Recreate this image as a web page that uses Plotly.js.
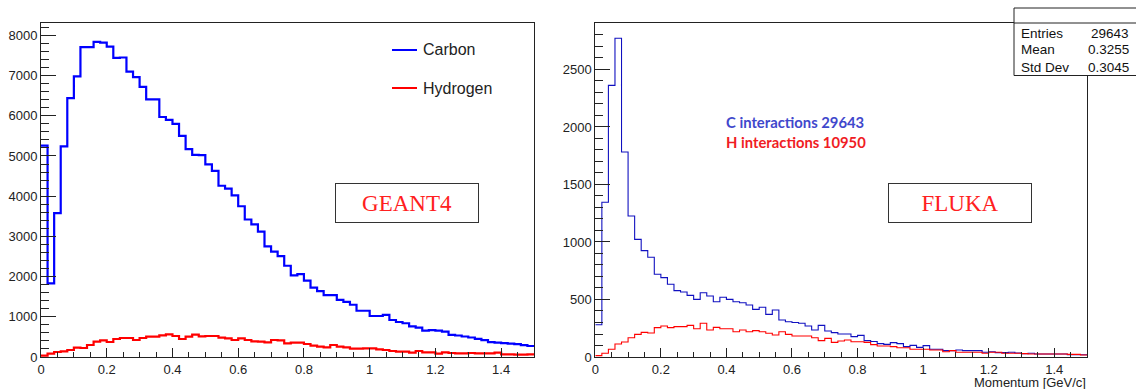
<!DOCTYPE html>
<html>
<head>
<meta charset="utf-8">
<script src="https://cdn.plot.ly/plotly-3.0.1.min.js"></script>
<style>html,body{margin:0;padding:0;background:#fff;}#chart{width:1136px;height:389px;}</style>
</head>
<body>
<div id="chart"></div>
<script>
// ---- data ----
const binLow = 0;
const binWidth = 0.02;

const g4Carbon = [5257,1830,3580,5240,6440,6980,7710,7710,7840,7820,
  7720,7440,7450,7100,6960,6720,6410,6410,5970,5900,
  5800,5500,5170,5030,5020,4790,4630,4260,4190,4020,
  3750,3420,3300,3120,2750,2620,2510,2270,2030,2060,
  1900,1725,1640,1540,1540,1420,1370,1300,1150,1150,
  1020,1020,1050,920,870,840,760,730,655,668,
  655,630,548,535,510,485,450,422,368,356,
  345,335,322,295,274];

const g4Hydrogen = [33,83,124,141,174,232,224,298,381,415,
  373,448,473,473,423,473,506,506,539,564,
  522,448,506,556,514,522,522,481,464,423,
  464,423,390,381,365,423,415,340,357,356,
  323,282,257,240,298,257,240,207,207,216,
  216,191,174,149,133,133,108,149,116,116,
  83,116,100,91,91,100,91,91,91,108,
  66,66,58,58,66];

const flukaCarbon = [280,1345,2362,2771,1783,1226,1023,925,867,719,
  690,632,577,565,536,501,559,530,481,519,
  501,481,472,452,414,432,371,409,322,307,
  300,293,270,235,275,226,212,200,200,177,
  188,142,135,116,110,125,116,90,101,84,
  99,67,67,55,55,61,55,55,55,41,
  46,38,38,41,35,29,32,26,26,26,
  26,26,20,20,20];

const flukaHydrogen = [12,32,67,113,130,168,197,214,209,255,
  270,255,264,264,275,246,293,235,258,246,
  246,220,235,220,229,220,206,191,220,197,
  183,183,183,168,142,162,127,139,148,133,
  133,127,108,96,96,90,81,81,67,67,
  67,61,61,46,55,41,41,41,41,32,
  41,41,32,32,32,29,26,26,26,26,
  26,26,23,23,17];

const legendNames = ["Carbon", "Hydrogen"];
const panelLabels = ["GEANT4", "FLUKA"];
const flukaTexts = ["C interactions 29643", "H interactions 10950"];
const statLabels = ["Entries", "Mean", "Std Dev"];
const statValues = ["29643", "0.3255", "0.3045"];
const xTitle = "Momentum [GeV/c]";

// ---- build step outlines ----
function stepXY(counts) {
  const x = [], y = [];
  for (let i = 0; i < counts.length; i++) { x.push(binLow + i * binWidth); y.push(counts[i]); }
  x.push(binLow + counts.length * binWidth); y.push(counts[counts.length - 1]);
  return {x, y};
}

const W = 1136, H = 389;
const px = v => v / W;
const py = v => 1 - v / H;

const BLUE = "#0000ff", RED = "#ff0000";
const FRAME = "#222222";

function trace(counts, color, width, xa, ya) {
  const s = stepXY(counts);
  return {type: "scatter", mode: "lines", x: s.x, y: s.y, xaxis: xa, yaxis: ya,
          line: {shape: "hv", color: color, width: width}, hoverinfo: "skip"};
}

const data = [
  trace(g4Hydrogen, RED, 2.2, "x", "y"),
  trace(g4Carbon, BLUE, 2.2, "x", "y"),
  trace(flukaCarbon, "#1010c0", 1.1, "x2", "y2"),
  trace(flukaHydrogen, RED, 1.1, "x2", "y2")
];

const tickFont = {family: "Liberation Sans, Arial, sans-serif", size: 13, color: "#222"};
function xAxis(domain, anchor) {
  return {domain: domain, anchor: anchor, range: [0, 1.5], tick0: 0, dtick: 0.2,
    ticks: "inside", ticklen: 9, tickwidth: 1, tickcolor: FRAME,
    minor: {ticks: "inside", ticklen: 5, dtick: 0.05, tickcolor: FRAME, tickwidth: 1, showgrid: false},
    showline: true, linecolor: FRAME, linewidth: 1, mirror: true,
    showgrid: false, zeroline: false, tickfont: tickFont, fixedrange: true};
}
function yAxis(domain, anchor, max, dt, mdt) {
  return {domain: domain, anchor: anchor, range: [0, max], tick0: 0, dtick: dt, tickformat: "d",
    ticks: "inside", ticklen: 15, tickwidth: 1, tickcolor: FRAME,
    minor: {ticks: "inside", ticklen: 8, dtick: mdt, tickcolor: FRAME, tickwidth: 1, showgrid: false},
    showline: true, linecolor: FRAME, linewidth: 1, mirror: true,
    showgrid: false, zeroline: false, tickfont: tickFont, fixedrange: true};
}

const yDom = [py(357), py(23)];

const annotations = [
  // legend
  {xref: "paper", yref: "paper", x: px(421), y: py(50), xanchor: "left", yanchor: "middle", showarrow: false,
   text: legendNames[0], font: {family: "Liberation Sans, Arial, sans-serif", size: 16, color: "#222"}},
  {xref: "paper", yref: "paper", x: px(421), y: py(88), xanchor: "left", yanchor: "middle", showarrow: false,
   text: legendNames[1], font: {family: "Liberation Sans, Arial, sans-serif", size: 16, color: "#222"}},
  // panel labels
  {xref: "paper", yref: "paper", x: px(407), y: py(203), xanchor: "center", yanchor: "middle", showarrow: false,
   text: panelLabels[0], width: 142, height: 38, bordercolor: "#333", borderwidth: 1, borderpad: 0,
   font: {family: "Liberation Serif, Times New Roman, serif", size: 23, color: "#ff2020"}},
  {xref: "paper", yref: "paper", x: px(960), y: py(203), xanchor: "center", yanchor: "middle", showarrow: false,
   text: panelLabels[1], width: 142, height: 38, bordercolor: "#333", borderwidth: 1, borderpad: 0,
   font: {family: "Liberation Serif, Times New Roman, serif", size: 23, color: "#ff2020"}},
  // fluka texts
  {xref: "paper", yref: "paper", x: px(724), y: py(122), xanchor: "left", yanchor: "middle", showarrow: false,
   text: "<b>" + flukaTexts[0] + "</b>", font: {family: "Lato, Open Sans, sans-serif", size: 14.8, color: "#3f48cc"}},
  {xref: "paper", yref: "paper", x: px(724), y: py(142), xanchor: "left", yanchor: "middle", showarrow: false,
   text: "<b>" + flukaTexts[1] + "</b>", font: {family: "Lato, Open Sans, sans-serif", size: 14.8, color: "#f01c24"}},
  // x title
  {xref: "paper", yref: "paper", x: px(1087), y: py(382.5), xanchor: "right", yanchor: "middle", showarrow: false,
   borderpad: 0, text: xTitle, font: {family: "Liberation Sans, Arial, sans-serif", size: 13, color: "#222"}}
];
const statRowsY = [33, 50, 67];
statLabels.forEach((lab, i) => {
  annotations.push({xref: "paper", yref: "paper", x: px(1019), y: py(statRowsY[i]), xanchor: "left", yanchor: "middle",
    showarrow: false, text: lab, font: {family: "Liberation Sans, Arial, sans-serif", size: 13.5, color: "#111"}});
  annotations.push({xref: "paper", yref: "paper", x: px(1131), y: py(statRowsY[i]), xanchor: "right", yanchor: "middle",
    showarrow: false, text: statValues[i], font: {family: "Liberation Sans, Arial, sans-serif", size: 13.5, color: "#111"}});
});

const shapes = [
  {type: "line", xref: "paper", yref: "paper", x0: px(392), x1: px(417), y0: py(50), y1: py(50), line: {color: BLUE, width: 2}},
  {type: "line", xref: "paper", yref: "paper", x0: px(392), x1: px(417), y0: py(88), y1: py(88), line: {color: RED, width: 2}},
  {type: "rect", xref: "paper", yref: "paper", x0: px(1014), x1: 1.01, y0: py(75.5), y1: py(8), line: {color: FRAME, width: 1}, fillcolor: "#fff", layer: "above"},
  {type: "line", xref: "paper", yref: "paper", x0: px(1014), x1: 1.01, y0: py(23), y1: py(23), line: {color: FRAME, width: 1}}
];

const layout = {
  width: W, height: H, margin: {l: 0, r: 0, t: 0, b: 0, pad: 0},
  paper_bgcolor: "#fff", plot_bgcolor: "#fff", showlegend: false,
  xaxis: xAxis([px(41), px(534)], "y"),
  yaxis: yAxis(yDom, "x", 8308, 1000, 200),
  xaxis2: xAxis([px(595.3), px(1087)], "y2"),
  yaxis2: yAxis(yDom, "x2", 2904, 500, 100),
  annotations: annotations, shapes: shapes
};

Plotly.newPlot("chart", data, layout, {displayModeBar: false, staticPlot: true});
</script>
</body>
</html>
